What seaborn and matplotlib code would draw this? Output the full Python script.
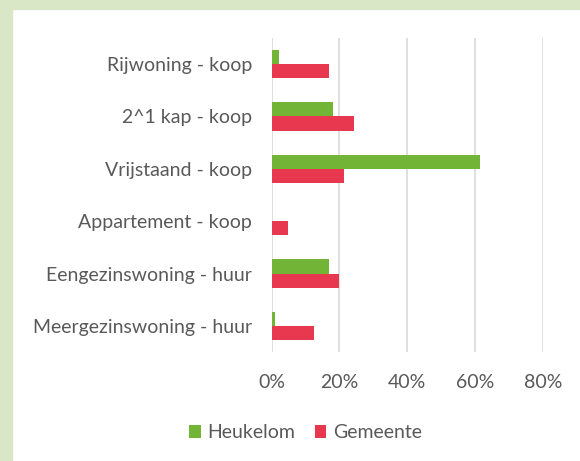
import pandas as pd
import seaborn as sns
import matplotlib.pyplot as plt
from matplotlib.patches import Rectangle
from matplotlib.ticker import PercentFormatter

categories = ['Rijwoning - koop', '2^1 kap - koop', 'Vrijstaand - koop',
              'Appartement - koop', 'Eengezinswoning - huur', 'Meergezinswoning - huur']
heukelom = [2, 18, 61.5, 0, 17, 1.1]
gemeente = [17, 24.2, 21.4, 4.8, 19.9, 12.4]
series = ['Heukelom', 'Gemeente']
colors = ['#72B536', '#E8384F']

df = pd.DataFrame({
    'Type': categories * 2,
    'Aandeel': heukelom + gemeente,
    'Reeks': [series[0]] * len(categories) + [series[1]] * len(categories),
})

sns.set_style('white')
plt.rcParams['font.family'] = ['Lato', 'DejaVu Sans']
txt = '#595959'
fs = 14

fig = plt.figure(figsize=(5.8, 4.61), dpi=100)
ax = fig.add_axes([0.4685, 0.2364, 0.4672, 0.6812])

sns.barplot(data=df, y='Type', x='Aandeel', hue='Reeks', order=categories,
            hue_order=series, palette=colors, saturation=1, width=0.54,
            orient='h', linewidth=0, ax=ax)

ax.set_xlim(0, 80)
ax.set_xticks([0, 20, 40, 60, 80])
ax.xaxis.set_major_formatter(PercentFormatter(decimals=0))
ax.grid(axis='x', color='#d9d9d9', linewidth=1.2)
ax.set_axisbelow(True)
for s in ax.spines.values():
    s.set_visible(False)
ax.tick_params(axis='both', length=0, labelsize=fs, labelcolor=txt)
ax.tick_params(axis='y', pad=14)
ax.tick_params(axis='x', pad=16)
ax.set_xlabel('')
ax.set_ylabel('')

ax.legend(loc='center', bbox_to_anchor=(0.527, 0.061), bbox_transform=fig.transFigure,
          ncol=2, frameon=False, fontsize=fs, labelcolor=txt, handlelength=0.6,
          handleheight=0.6, handletextpad=0.35, columnspacing=1.0)

# green frame
fig.add_artist(Rectangle((0, 1 - 9 / 461), 1, 9 / 461, transform=fig.transFigure,
                         color='#DAE7C6', zorder=-1))
fig.add_artist(Rectangle((0, 0), 12 / 580, 1, transform=fig.transFigure,
                         color='#DAE7C6', zorder=-1))

fig.savefig('out.png', dpi=100)
